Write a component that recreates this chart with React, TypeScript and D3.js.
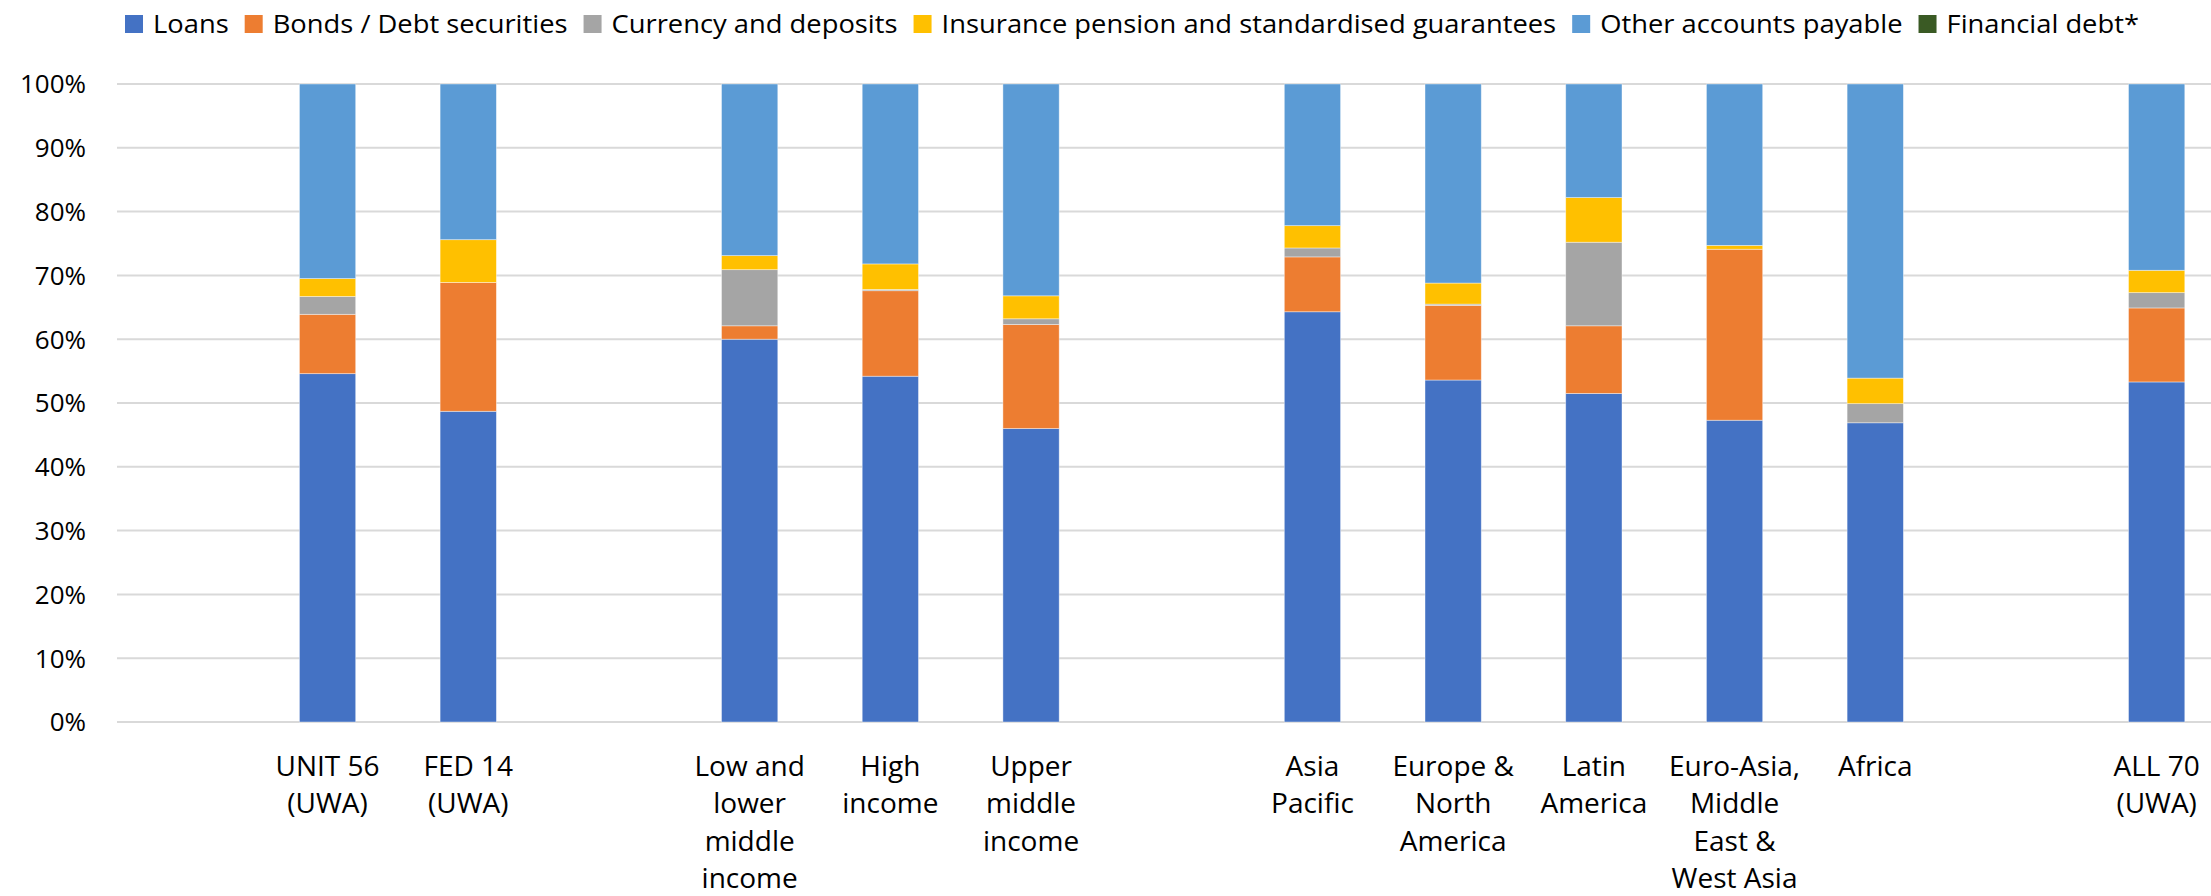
import React, { useEffect, useRef } from "react";
import * as d3 from "d3";

const categories: string[] = [
  "",
  "UNIT 56\n(UWA)",
  "FED 14\n(UWA)",
  "",
  "Low and\nlower\nmiddle\nincome",
  "High\nincome",
  "Upper\nmiddle\nincome",
  "",
  "Asia\nPacific",
  "Europe &\nNorth\nAmerica",
  "Latin\nAmerica",
  "Euro-Asia,\nMiddle\nEast &\nWest Asia",
  "Africa",
  "",
  "ALL 70\n(UWA)",
];

const seriesNames: string[] = [
  "Loans",
  "Bonds / Debt securities",
  "Currency and deposits",
  "Insurance pension and standardised guarantees",
  "Other accounts payable",
  "Financial debt*",
];

const loans: (number | null)[] = [null, 54.6, 48.7, null, 60.0, 54.2, 46.0, null, 64.3, 53.6, 51.5, 47.3, 46.9, null, 53.3];
const bonds: (number | null)[] = [null, 9.3, 20.2, null, 2.1, 13.4, 16.3, null, 8.6, 11.7, 10.6, 26.8, 0, null, 11.6];
const currency: (number | null)[] = [null, 2.8, 0, null, 8.8, 0.2, 0.9, null, 1.4, 0.2, 13.1, 0, 3.0, null, 2.4];
const insurance: (number | null)[] = [null, 2.8, 6.7, null, 2.2, 4.0, 3.6, null, 3.5, 3.3, 7.0, 0.6, 4.0, null, 3.5];
const otherPayable: (number | null)[] = [null, 30.5, 24.4, null, 26.9, 28.2, 33.2, null, 22.2, 31.2, 17.8, 25.3, 46.1, null, 29.2];
const financialDebt: (number | null)[] = [null, 0, 0, null, 0, 0, 0, null, 0, 0, 0, 0, 0, null, 0];

const yTicks: number[] = [0, 10, 20, 30, 40, 50, 60, 70, 80, 90, 100];

const colors = ["#4472C4", "#ED7D31", "#A5A5A5", "#FFC000", "#5B9BD5", "#3A5A24"];

const FONT = "'Open Sans', 'Noto Sans', Arial, sans-serif";

export default function App() {
  const ref = useRef<SVGSVGElement | null>(null);

  useEffect(() => {
    document.body.style.margin = "0";
    const W = 2211;
    const svg = d3.select(ref.current);
    svg.selectAll("*").remove();

    const seriesData = [loans, bonds, currency, insurance, otherPayable, financialDebt];
    const keys = seriesNames;
    const rows = categories.map((c, i) => {
      const r: any = { idx: i, empty: seriesData[0][i] === null };
      keys.forEach((k, j) => (r[k] = seriesData[j][i] ?? 0));
      return r;
    });

    const x = d3
      .scaleBand<number>()
      .domain(categories.map((_, i) => i))
      .range([116.5, 2227])
      .paddingInner(0.6)
      .paddingOuter(0.3);
    const y = d3.scaleLinear().domain([0, 100]).range([722, 84]);

    // gridlines
    svg
      .append("g")
      .selectAll("line")
      .data(yTicks)
      .join("line")
      .attr("x1", 117)
      .attr("x2", W)
      .attr("y1", (d) => y(d))
      .attr("y2", (d) => y(d))
      .attr("stroke", "#d9d9d9")
      .attr("stroke-width", 2);

    // y labels
    svg
      .append("g")
      .selectAll("text")
      .data(yTicks)
      .join("text")
      .attr("x", 86)
      .attr("y", (d) => y(d) + 9.3)
      .attr("text-anchor", "end")
      .attr("font-family", FONT)
      .attr("font-size", 26)
      .attr("fill", "#000")
      .text((d) => `${d}%`);

    // bars
    const stack = d3.stack<any>().keys(keys);
    const stacked = stack(rows);
    svg
      .append("g")
      .selectAll("g")
      .data(stacked)
      .join("g")
      .attr("fill", (_, i) => colors[i])
      .selectAll("rect")
      .data((s) => s.filter((d) => !d.data.empty))
      .join("rect")
      .attr("x", (d) => x(d.data.idx)!)
      .attr("width", x.bandwidth())
      .attr("y", (d) => y(d[1]))
      .attr("height", (d) => Math.max(0, y(d[0]) - y(d[1])))
      .attr("stroke", "#ffffff")
      .attr("stroke-opacity", 0.5)
      .attr("stroke-width", 0.8);

    // category labels
    const lineH = 37.4;
    const catG = svg.append("g");
    categories.forEach((c, i) => {
      if (!c) return;
      const cx = x(i)! + x.bandwidth() / 2;
      c.split("\n").forEach((line, li) => {
        catG
          .append("text")
          .attr("x", cx)
          .attr("y", 776 + li * lineH)
          .attr("text-anchor", "middle")
          .attr("font-family", FONT)
          .attr("font-size", 28)
          .attr("fill", "#000")
          .text(line);
      });
    });

    // legend: measure then fit between 125 and 2139
    const lg = svg.append("g");
    const texts = seriesNames.map((name) =>
      lg
        .append("text")
        .attr("font-family", FONT)
        .attr("font-size", 25)
        .attr("fill", "#000")
        .text(name)
    );
    const widths = texts.map((t) => (t.node() as SVGTextElement).getComputedTextLength());
    const total = widths.reduce((a, b) => a + b, 0);
    const startX = 125;
    const endX = 2139;
    const fixed = seriesNames.length * 28 + (seriesNames.length - 1) * 16;
    const sx = (endX - startX - fixed) / total;
    let lx = startX;
    seriesNames.forEach((name, i) => {
      lg.append("rect")
        .attr("x", lx)
        .attr("y", 15)
        .attr("width", 18)
        .attr("height", 18)
        .attr("fill", colors[i]);
      texts[i].attr("transform", `translate(${lx + 28},33) scale(${sx},1)`);
      lx += 28 + widths[i] * sx + 16;
    });
  }, []);

  return (
    <svg
      ref={ref}
      width={2211}
      height={896}
      style={{ display: "block", background: "#fff" }}
    />
  );
}
